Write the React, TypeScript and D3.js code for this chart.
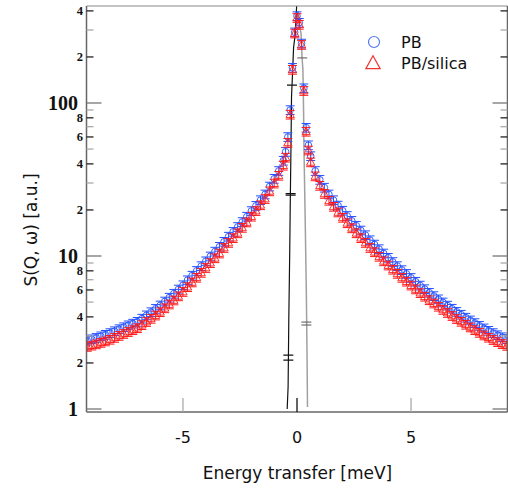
import React from 'react';
import * as d3 from 'd3';

// energy transfer grid [meV]
const energy = [
  -9.2, -9.0, -8.8, -8.6, -8.4, -8.2, -8.0, -7.8, -7.6, -7.4, -7.2, -7.0, -6.8, -6.6, -6.4,
  -6.2, -6.0, -5.8, -5.6, -5.4, -5.2, -5.0, -4.8, -4.6, -4.4, -4.2, -4.0, -3.8, -3.6, -3.4,
  -3.2, -3.0, -2.8, -2.6, -2.4, -2.2, -2.0, -1.8, -1.6, -1.4, -1.2, -1.0, -0.8,
  -0.6, -0.5, -0.4, -0.3, -0.2, -0.1, 0.0, 0.1, 0.2, 0.3, 0.4, 0.5, 0.6,
  0.8, 1.0, 1.2, 1.4, 1.6, 1.8, 2.0, 2.2, 2.4, 2.6, 2.8, 3.0, 3.2, 3.4, 3.6, 3.8, 4.0,
  4.2, 4.4, 4.6, 4.8, 5.0, 5.2, 5.4, 5.6, 5.8, 6.0, 6.2, 6.4, 6.6, 6.8, 7.0, 7.2, 7.4,
  7.6, 7.8, 8.0, 8.2, 8.4, 8.6, 8.8, 9.0, 9.2,
];

const pb = [
  2.8, 2.86, 2.92, 2.99, 3.06, 3.14, 3.23, 3.33, 3.43, 3.53, 3.62, 3.72, 3.9, 4.1, 4.3,
  4.52, 4.76, 5.05, 5.35, 5.68, 6.05, 6.45, 6.95, 7.45, 8.0, 8.6, 9.25, 9.95, 10.7, 11.5,
  12.4, 13.4, 14.4, 15.5, 16.7, 18.1, 19.7, 21.3, 23.2, 25.3, 28.5, 32.0, 36.0,
  42, 48, 60, 90, 170, 290, 370, 335, 245, 125, 69, 53, 45,
  36.0, 31.5, 28.0, 25.3, 23.2, 21.4, 19.8, 18.3, 17.0, 15.8, 14.7, 13.7, 12.7, 11.9, 11.1, 10.4, 9.75,
  9.15, 8.6, 8.1, 7.65, 7.2, 6.8, 6.42, 6.08, 5.76, 5.48, 5.22, 4.98, 4.75, 4.53, 4.32, 4.14, 3.96,
  3.8, 3.65, 3.5, 3.37, 3.25, 3.14, 3.04, 2.95, 2.87,
];

const pbSilica = [
  2.55, 2.6, 2.65, 2.71, 2.77, 2.84, 2.92, 3.01, 3.1, 3.19, 3.28, 3.38, 3.54, 3.71, 3.89,
  4.09, 4.3, 4.56, 4.83, 5.13, 5.46, 5.83, 6.27, 6.73, 7.22, 7.77, 8.36, 9.0, 9.68, 10.4,
  11.3, 12.2, 13.1, 14.1, 15.3, 16.6, 18.1, 19.7, 21.5, 23.6, 26.5, 29.8, 33.5,
  39, 44, 55, 84, 165, 285, 360, 325, 240, 120, 65, 49, 41,
  33.2, 28.8, 25.5, 23.0, 21.0, 19.3, 17.8, 16.4, 15.2, 14.1, 13.1, 12.2, 11.3, 10.6, 9.9, 9.25, 8.68,
  8.15, 7.66, 7.21, 6.81, 6.42, 6.06, 5.73, 5.43, 5.15, 4.9, 4.67, 4.45, 4.25, 4.06, 3.88, 3.72, 3.56,
  3.42, 3.28, 3.15, 3.03, 2.93, 2.83, 2.74, 2.66, 2.59,
];

const relErr = 0.065;

// resolution curves
const resBlackE = [-0.01, -0.05, -0.08, -0.15, -0.2, -0.24, -0.26, -0.29, -0.32, -0.36, -0.39, -0.43];
const resBlackS = [450, 340, 280, 230, 150, 110, 57, 26, 10.4, 3.8, 1.4, 1.0];
const resGreyE = [0.05, 0.07, 0.175, 0.22, 0.26, 0.29, 0.3, 0.36, 0.41, 0.44, 0.46];
const resGreyS = [400, 347, 286, 200, 165, 86, 57, 17, 5.7, 2.3, 1.03];
const resBlackCapE = [-0.22, -0.28, -0.28, -0.38, -0.38];
const resBlackCapS = [131, 25.6, 25.0, 2.25, 2.09];
const resGreyCapE = [0.23, 0.41, 0.41];
const resGreyCapS = [197, 3.7, 3.54];

const xTicks = [-5, 0, 5];
const yMajor = [1, 10, 100];
const yLabelled = [2, 4, 6, 8, 20, 40, 60, 80, 200, 400];

const W = 508;
const H = 493;
const L = 86.5;
const R = 507.5;
const T = 6;
const B = 412;

const sans = 'DejaVu Sans, Verdana, sans-serif';
const serif = 'Liberation Serif, Times New Roman, serif';

export default function App() {
  const x = d3.scaleLinear().domain([-9.23, 9.23]).range([L, R]);
  const y = d3.scaleLog().domain([0.956, 430.5]).range([B, T]);

  const minor: number[] = [];
  [1, 10, 100].forEach((d) => {
    for (let k = 2; k <= 9; k++) if (d * k <= 430) minor.push(d * k);
  });

  const line = d3.line<[number, number]>().x((d) => x(d[0])).y((d) => y(d[1]));
  const blackPts = resBlackE.map((e, i) => [e, resBlackS[i]] as [number, number]);
  const greyPts = resGreyE.map((e, i) => [e, resGreyS[i]] as [number, number]);

  const tri = (cx: number, cy: number, s: number) =>
    `M${cx},${cy - s * 0.6}L${cx + s * 0.55},${cy + s * 0.4}L${cx - s * 0.55},${cy + s * 0.4}Z`;

  const errBar = (vals: number[], color: string, key: string) =>
    energy.map((e, i) => {
      const cx = x(e);
      const hi = y(vals[i] * (1 + relErr));
      const lo = y(vals[i] * (1 - relErr));
      return (
        <g key={key + i} stroke={color} strokeWidth={1}>
          <line x1={cx} x2={cx} y1={hi} y2={lo} />
          <line x1={cx - 4.5} x2={cx + 4.5} y1={hi} y2={hi} />
          <line x1={cx - 4.5} x2={cx + 4.5} y1={lo} y2={lo} />
        </g>
      );
    });

  const blue = '#2450ff';
  const red = '#ff1a1a';

  return (
    <svg width={W} height={H} style={{ position: 'absolute', left: 0, top: 0, background: '#fff' }}>
      <defs>
        <clipPath id="plot">
          <rect x={L} y={T} width={R - L} height={B - T} />
        </clipPath>
      </defs>

      <g clipPath="url(#plot)">
        <path d={line(blackPts) || ''} fill="none" stroke="#111" strokeWidth={1.2} />
        <path d={line(greyPts) || ''} fill="none" stroke="#a0a0a0" strokeWidth={1.5} />
        {resBlackCapE.map((e, i) => (
          <line key={'bc' + i} x1={x(e) - 5} x2={x(e) + 5} y1={y(resBlackCapS[i])} y2={y(resBlackCapS[i])} stroke="#111" strokeWidth={1.2} />
        ))}
        {resGreyCapE.map((e, i) => (
          <line key={'gc' + i} x1={x(e) - 5} x2={x(e) + 5} y1={y(resGreyCapS[i])} y2={y(resGreyCapS[i])} stroke="#555" strokeWidth={1} />
        ))}

        {errBar(pb, blue, 'pbe')}
        {energy.map((e, i) => (
          <circle key={'pb' + i} cx={x(e)} cy={y(pb[i])} r={3.3} fill="none" stroke={blue} strokeWidth={1} opacity={0.9} />
        ))}
        {errBar(pbSilica, red, 'pse')}
        {energy.map((e, i) => (
          <path key={'ps' + i} d={tri(x(e), y(pbSilica[i]), 7.5)} fill="none" stroke={red} strokeWidth={1} opacity={0.9} />
        ))}
      </g>

      {/* frame */}
      <line x1={L} x2={R} y1={T} y2={T} stroke="#888" strokeWidth={1.2} />
      <line x1={L} x2={R} y1={B} y2={B} stroke="#666" strokeWidth={1.5} />
      <line x1={L} x2={L} y1={T} y2={B} stroke="#666" strokeWidth={1.5} />
      <line x1={R} x2={R} y1={T} y2={B} stroke="#666" strokeWidth={1.5} />

      {/* y ticks */}
      {yMajor.map((v) => (
        <g key={'ym' + v}>
          <line x1={L} x2={L + 15} y1={y(v)} y2={y(v)} stroke="#777" strokeWidth={1.3} />
          <line x1={R - 15} x2={R} y1={y(v)} y2={y(v)} stroke="#777" strokeWidth={1.3} />
          <text x={78} y={y(v) + 6.5} textAnchor="end" fontFamily={serif} fontWeight="bold" fontSize={20} fill="#111">
            {v}
          </text>
        </g>
      ))}
      {minor.map((v) => {
        const lab = yLabelled.includes(v);
        const c = lab ? '#222' : '#aaa';
        return (
          <g key={'yn' + v}>
            <line x1={L} x2={L + 7} y1={y(v)} y2={y(v)} stroke={c} strokeWidth={1.3} />
            <line x1={R - 7} x2={R} y1={y(v)} y2={y(v)} stroke={c} strokeWidth={1.3} />
            {lab && (
              <text x={83} y={y(v) + 4.2} textAnchor="end" fontFamily={serif} fontWeight="bold" fontSize={12.5} fill="#111">
                {String(v).charAt(0)}
              </text>
            )}
          </g>
        );
      })}

      {/* x ticks */}
      {xTicks.map((v) => (
        <g key={'xt' + v}>
          <line x1={x(v)} x2={x(v)} y1={B} y2={B - 14} stroke={v === 0 ? '#111' : '#aaa'} strokeWidth={1.3} />
          <text x={x(v)} y={443} textAnchor="middle" fontFamily={sans} fontSize={16} fill="#111">
            {v < 0 ? '-' + Math.abs(v) : v}
          </text>
        </g>
      ))}

      <text x={(L + R) / 2 + 0.5} y={479} textAnchor="middle" fontFamily={sans} fontSize={17} fill="#111">
        Energy transfer [meV]
      </text>
      <text transform="translate(37,230) rotate(-90)" textAnchor="middle" fontFamily={sans} fontSize={17} fill="#111">
        S(Q, ω) [a.u.]
      </text>

      {/* legend */}
      <circle cx={374} cy={42} r={5.5} fill="none" stroke="#5577ee" strokeWidth={1.2} />
      <text x={401} y={47.5} fontFamily={sans} fontSize={16} fill="#111">PB</text>
      <path d={tri(373, 63.5, 13)} fill="none" stroke="#ee3333" strokeWidth={1.2} />
      <text x={401} y={69} fontFamily={sans} fontSize={16} fill="#111">PB/silica</text>
    </svg>
  );
}
